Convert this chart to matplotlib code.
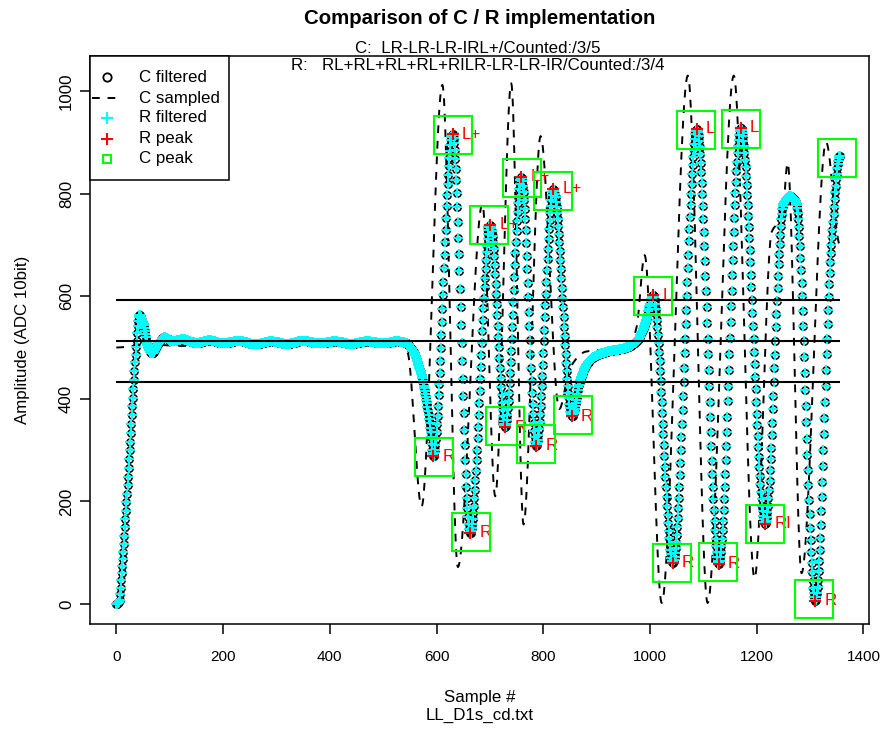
import numpy as np
import matplotlib
matplotlib.use("Agg")
import matplotlib.pyplot as plt
from matplotlib.lines import Line2D
from matplotlib.patches import Rectangle

plt.rcParams['font.family'] = ['Liberation Sans', 'DejaVu Sans']

W, H, DPI = 881, 731, 100
FS = 12.2

# ---------------- data ----------------
n_samples = 1357
# filtered signal (C filtered / R filtered) turning points: sample, ADC value
filt_knot_x = [0, 5, 10, 20, 30, 37, 43, 50, 58, 67, 77, 90, 105, 125, 150, 175, 200, 230, 260,
               290, 320, 350, 380, 410, 440, 470, 500, 525, 540, 555, 570, 581, 589, 594, 630,
               663, 701, 729, 759, 787, 819, 854, 870, 890, 920, 950, 975, 992, 1006, 1043,
               1088, 1129, 1170, 1216, 1250, 1262, 1274, 1310, 1340, 1356]
filt_knot_y = [0, 4, 60, 215, 385, 500, 563, 548, 505, 489, 505, 520, 512, 516, 509, 514, 508, 513, 506,
               512, 507, 513, 508, 512, 507, 512, 508, 512, 510, 495, 452, 398, 335, 288, 916,
               138, 739, 345, 832, 308, 809, 366, 440, 478, 492, 498, 512, 550, 602, 80,
               926, 78, 928, 156, 780, 795, 782, 6, 700, 874]
# sampled (raw) signal turning points
raw_knot_x = [0, 60, 120, 200, 280, 360, 440, 520, 538, 546, 572, 611, 640, 686, 710, 740,
              763, 795, 830, 850, 880, 930, 962, 975, 990, 1022, 1071, 1108, 1157, 1196,
              1228, 1248, 1258, 1284, 1330, 1356]
raw_knot_y = [500, 506, 503, 507, 504, 506, 503, 505, 503, 490, 190, 1012, 72, 780, 210, 1015,
              155, 912, 380, 460, 492, 497, 505, 540, 680, 2, 1030, 2, 1030, 50,
              725, 755, 860, 60, 900, 700]

thresholds = [592, 512, 432]

r_peak_x = [594, 630, 663, 701, 729, 759, 787, 819, 854, 1006, 1043, 1088, 1129, 1170, 1216, 1310]
r_peak_y = [288, 916, 139, 739, 345, 833, 308, 809, 366, 602, 80, 926, 78, 928, 156, 6]
r_peak_lbl = ["R", "L+", "R", "L+", "R", "L+", "R", "L+", "R", "L", "R", "L", "R", "L", "RI", "R"]

c_peak_x = [596, 631, 664, 699, 728, 760, 787, 819, 855, 1005, 1042, 1087, 1128, 1171, 1216, 1308, 1350]
c_peak_y = [287, 915, 140, 738, 346, 831, 311, 806, 368, 600, 79, 923, 81, 926, 155, 10, 870]

title = "Comparison of C / R implementation"
sub_c = "C:  LR-LR-LR-IRL+/Counted:/3/5"
sub_r = "R:   RL+RL+RL+RL+RILR-LR-LR-IR/Counted:/3/4"
x_ticks = [0, 200, 400, 600, 800, 1000, 1200, 1400]
y_ticks = [0, 200, 400, 600, 800, 1000]
legend_labels = ["C filtered", "C sampled", "R filtered", "R peak", "C peak"]


def pchip(xk, yk, xs):
    xk = np.asarray(xk, float)
    yk = np.asarray(yk, float)
    h = np.diff(xk)
    d = np.diff(yk) / h
    m = np.zeros_like(yk)
    for i in range(1, len(xk) - 1):
        if d[i - 1] * d[i] > 0:
            w1 = 2 * h[i] + h[i - 1]
            w2 = h[i] + 2 * h[i - 1]
            m[i] = (w1 + w2) / (w1 / d[i - 1] + w2 / d[i])
    idx = np.clip(np.searchsorted(xk, xs, side='right') - 1, 0, len(xk) - 2)
    t = (xs - xk[idx]) / h[idx]
    h00 = 2 * t**3 - 3 * t**2 + 1
    h10 = t**3 - 2 * t**2 + t
    h01 = -2 * t**3 + 3 * t**2
    h11 = t**3 - t**2
    return (h00 * yk[idx] + h10 * h[idx] * m[idx] + h01 * yk[idx + 1] + h11 * h[idx] * m[idx + 1])


samples = np.arange(n_samples)
filtered = pchip(filt_knot_x, filt_knot_y, samples)
sampled = pchip(raw_knot_x, raw_knot_y, samples)

# ---------------- figure ----------------
fig = plt.figure(figsize=(W / DPI, H / DPI), dpi=DPI)
L, R, T, B = 90, 869, 56, 624
ax = fig.add_axes([L / W, 1 - B / H, (R - L) / W, (B - T) / H])
ax.set_xlim(-49.3, 1410.4)
ax.set_ylim(-39, 1068.2)

ax.plot(samples, filtered, linestyle='none', marker='o', ms=5.3, mfc='none', mec='black', mew=1.1, zorder=2)
ax.plot(samples, sampled, color='black', lw=1.4, linestyle=(0, (4, 4)), zorder=2.5)
ax.plot(samples, filtered, linestyle='none', marker='+', ms=6.5, mec='#00ffff', mew=1.4, zorder=3)
ax.hlines(thresholds, 0, n_samples - 1, color='black', lw=1.5, zorder=4)
ax.plot(r_peak_x, r_peak_y, linestyle='none', marker='+', ms=9, mec='red', mew=1.5, zorder=5)
for x, y, lab in zip(r_peak_x, r_peak_y, r_peak_lbl):
    ax.annotate(lab, (x, y), xytext=(6.5, 0), textcoords='offset points', color='red',
                fontsize=FS, ha='left', va='center', zorder=6)
ax.plot(c_peak_x, c_peak_y, linestyle='none', marker='s', ms=27, mfc='none', mec='#00ff00', mew=1.5, zorder=6)

for sp in ax.spines.values():
    sp.set_linewidth(1.1)
ax.set_xticks(x_ticks)
ax.set_yticks(y_ticks)
ax.tick_params(direction='out', length=7, width=1.1, labelsize=FS)
ax.tick_params(axis='x', pad=12, labelsize=11)
ax.tick_params(axis='y', pad=4.5)
plt.setp(ax.get_yticklabels(), rotation=90, va='center')

ax.set_xlabel("Sample #\nLL_D1s_cd.txt", fontsize=FS, linespacing=1.25, va='top')
ax.xaxis.set_label_coords(0.5, -(690 - B) / (B - T))
ax.set_ylabel("Amplitude (ADC 10bit)", fontsize=FS)
ax.yaxis.set_label_coords((29.5 - L) / (R - L), 0.5)

ax.set_title(title, fontsize=14.7, fontweight='bold', y=(B - 23.5) / (B - T), pad=0)


def fx(px):
    return px / W


def fy(py):
    return 1 - py / H


fig.text(fx(478), fy(52.7), sub_c, fontsize=FS, ha='center', va='baseline')
fig.text(fx(478), fy(70), sub_r, fontsize=FS, ha='center', va='baseline')

# legend box (top-left)
fig.add_artist(Rectangle((fx(90), fy(180)), fx(229) - fx(90), fy(56) - fy(180),
                         transform=fig.transFigure, facecolor='white', edgecolor='black',
                         lw=1.1, zorder=10))
rows = [77, 98, 118, 139, 159]
handles = [
    dict(xdata=[fx(107)], ydata=[fy(rows[0])], linestyle='none', marker='o', ms=6, mfc='none', mec='black', mew=1.3),
    dict(xdata=[fx(92), fx(118)], ydata=[fy(rows[1])] * 2, color='black', lw=1.4, linestyle=(0, (4, 4))),
    dict(xdata=[fx(107)], ydata=[fy(rows[2])], linestyle='none', marker='+', ms=8, mec='#00ffff', mew=1.5),
    dict(xdata=[fx(107)], ydata=[fy(rows[3])], linestyle='none', marker='+', ms=8, mec='red', mew=1.5),
    dict(xdata=[fx(107)], ydata=[fy(rows[4])], linestyle='none', marker='s', ms=5.5, mfc='none', mec='#00ff00', mew=1.5),
]
for hd, lab, ry in zip(handles, legend_labels, rows):
    ln = Line2D(transform=fig.transFigure, zorder=11, **hd)
    fig.add_artist(ln)
    fig.text(fx(139), fy(ry), lab, fontsize=FS, ha='left', va='center', zorder=11)

fig.savefig("out.png", dpi=DPI)
